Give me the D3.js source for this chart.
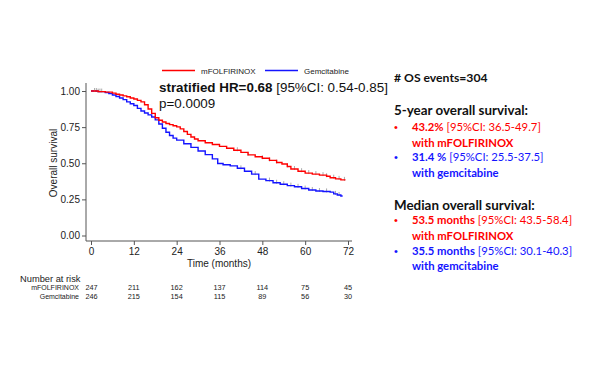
<!DOCTYPE html>
<html>
<head>
<meta charset="utf-8">
<script src="https://cdn.jsdelivr.net/npm/d3@7"></script>
<style>
  body { margin: 0; background: #fff; }
  svg { display: block; }
</style>
</head>
<body>
<svg width="600" height="365"></svg>
<script>
// KM step points (months, survival)
const folfTime = [0, 2, 4, 6, 7, 8, 9, 10, 11, 12, 13, 14, 15, 16, 17, 18, 19, 20, 21, 22, 23, 24, 25, 26, 27, 28, 29, 30, 32, 34, 36, 38, 40, 42, 44, 46, 48, 50, 52, 53.5, 55, 56, 58, 60, 62, 64, 66, 67, 68.5, 70, 71.3]
const folfSurv = [1, 0.996, 0.992, 0.985, 0.978, 0.972, 0.966, 0.96, 0.952, 0.945, 0.935, 0.925, 0.905, 0.875, 0.845, 0.815, 0.798, 0.785, 0.775, 0.767, 0.76, 0.752, 0.738, 0.72, 0.7, 0.682, 0.668, 0.656, 0.642, 0.63, 0.617, 0.604, 0.59, 0.575, 0.558, 0.545, 0.535, 0.52, 0.505, 0.495, 0.478, 0.46, 0.445, 0.432, 0.425, 0.418, 0.41, 0.4, 0.392, 0.385, 0.385]
const gemTime = [0, 2, 4, 5, 6, 7, 8, 9, 10, 11, 12, 13, 14, 15, 16, 17, 18, 19, 20, 21, 22, 23, 24, 26, 28, 30, 32, 34, 35.5, 37, 39, 41, 43, 45, 47, 49, 51, 53, 55, 57, 59, 61, 63, 65, 67, 68, 69, 70, 70.5]
const gemSurv = [1, 0.996, 0.99, 0.982, 0.972, 0.962, 0.952, 0.94, 0.925, 0.912, 0.9, 0.88, 0.862, 0.848, 0.835, 0.82, 0.8, 0.772, 0.742, 0.715, 0.692, 0.674, 0.66, 0.635, 0.61, 0.585, 0.56, 0.53, 0.498, 0.49, 0.482, 0.465, 0.445, 0.425, 0.39, 0.38, 0.365, 0.355, 0.345, 0.337, 0.325, 0.315, 0.308, 0.305, 0.3, 0.288, 0.28, 0.273, 0.273]
// censoring marks (months)
const folfCens = [1, 2, 3, 41, 44, 48, 50, 52, 55, 57, 59, 61, 63, 65, 66, 68, 69.5, 71]
const gemCens = [1.5, 2.5, 42, 46, 50, 52, 54, 56, 58, 60, 62, 64, 66, 68.5, 69.5]

const xTicks = [0, 12, 24, 36, 48, 60, 72]
const yTicks = [0, 0.25, 0.5, 0.75, 1]
const riskFolf = [247, 211, 162, 137, 114, 75, 45]
const riskGem = [246, 215, 154, 115, 89, 56, 30]

const RED = '#ff0000', BLUE = '#1414ff', AXIS = '#555'
const AF = 'Liberation Sans, Arial, sans-serif'
const svg = d3.select('svg')
const x = d3.scaleLinear().domain([0, 72]).range([91, 348])
const y = d3.scaleLinear().domain([0, 1]).range([235.5, 91])

// axes
svg.append('line').attr('x1', 86).attr('x2', 86).attr('y1', 83).attr('y2', 241).attr('stroke', AXIS)
svg.append('line').attr('x1', 86).attr('x2', 352).attr('y1', 241).attr('y2', 241).attr('stroke', AXIS)

const yAxis = svg.append('g').attr('transform', 'translate(86,0)')
  .call(d3.axisLeft(y).tickValues(yTicks).tickFormat(d3.format('.2f')).tickSize(4).tickPadding(2))
yAxis.select('.domain').remove()
yAxis.selectAll('line').attr('stroke', AXIS)
yAxis.selectAll('text').attr('font-family', AF).attr('font-size', '10px').attr('fill', '#222')

const xAxis = svg.append('g').attr('transform', 'translate(0,241)')
  .call(d3.axisBottom(x).tickValues(xTicks).tickSize(4).tickPadding(3))
xAxis.select('.domain').remove()
xAxis.selectAll('line').attr('stroke', AXIS)
xAxis.selectAll('text').attr('font-family', AF).attr('font-size', '10px').attr('fill', '#222')

svg.append('text')
  .attr('transform', 'translate(57,163) rotate(-90)')
  .attr('text-anchor', 'middle')
  .attr('font-family', AF).attr('font-size', '10px').attr('fill', '#222')
  .text('Overall survival')

svg.append('text')
  .attr('x', 219).attr('y', 267)
  .attr('text-anchor', 'middle')
  .attr('font-family', AF).attr('font-size', '10px').attr('fill', '#222')
  .text('Time (months)')

// curves
const line = d3.line().curve(d3.curveStepAfter).x(d => x(d[0])).y(d => y(d[1]))
const stepAt = (times, surv, t) => surv[d3.bisectRight(times, t) - 1]

const drawGroup = (times, surv, cens, color) => {
  svg.append('g').selectAll('line')
    .data(cens).join('line')
    .attr('x1', d => x(d)).attr('x2', d => x(d))
    .attr('y1', d => y(stepAt(times, surv, d)) - 3)
    .attr('y2', d => y(stepAt(times, surv, d)) + 1)
    .attr('stroke', '#aaa').attr('stroke-width', 1)
  svg.append('path')
    .datum(d3.zip(times, surv))
    .attr('d', line)
    .attr('fill', 'none')
    .attr('stroke', color)
    .attr('stroke-width', 1.4)
}
drawGroup(gemTime, gemSurv, gemCens, BLUE)
drawGroup(folfTime, folfSurv, folfCens, RED)

// legend
const legend = [['mFOLFIRINOX', RED, 162], ['Gemcitabine', BLUE, 265]]
legend.forEach(([name, color, lx]) => {
  svg.append('line').attr('x1', lx).attr('x2', lx + 33).attr('y1', 70.5).attr('y2', 70.5)
    .attr('stroke', color).attr('stroke-width', 1.4)
  svg.append('text').attr('x', lx + 39).attr('y', 73.5)
    .attr('font-family', AF).attr('font-size', '8px').attr('fill', '#222')
    .text(name)
})

// HR annotation
const hr = svg.append('text').attr('x', 159).attr('y', 92)
  .attr('font-family', AF).attr('font-size', '13.4px').attr('fill', '#111')
hr.append('tspan').attr('font-weight', 'bold').text('stratified HR=0.68')
hr.append('tspan').text(' [95%CI: 0.54-0.85]')
svg.append('text').attr('x', 159).attr('y', 108)
  .attr('font-family', AF).attr('font-size', '13.4px').attr('fill', '#111')
  .text('p=0.0009')

// number at risk
svg.append('text').attr('x', 20).attr('y', 282)
  .attr('font-family', AF).attr('font-size', '9.3px').attr('fill', '#222')
  .text('Number at risk')
const riskRows = [['mFOLFIRINOX', riskFolf, 290], ['Gemcitabine', riskGem, 298.5]]
riskRows.forEach(([name, vals, ry]) => {
  svg.append('text').attr('x', 79).attr('y', ry).attr('text-anchor', 'end')
    .attr('font-family', AF).attr('font-size', '7px').attr('fill', '#222')
    .text(name)
  svg.append('g').selectAll('text')
    .data(vals).join('text')
    .attr('x', (d, i) => x(xTicks[i]) + (i === 0 ? 0.5 : 0))
    .attr('y', ry)
    .attr('text-anchor', 'middle')
    .attr('font-family', AF).attr('font-size', '7.3px').attr('fill', '#222')
    .text(d => d)
})

// right panel
const RF = 'Lato, Calibri, sans-serif'
svg.append('text').attr('x', 394).attr('y', 82)
  .attr('font-family', RF).attr('font-size', '12.2px').attr('font-weight', 'bold').attr('fill', '#111')
  .text('# OS events=304')

const blocks = [
  { title: '5-year overall survival:', ty: 115, rows: [
    { color: RED, bold: '43.2%', ci: ' [95%CI: 36.5-49.7]', tail: 'with mFOLFIRINOX', y1: 131, y2: 146.5 },
    { color: BLUE, bold: '31.4 %', ci: ' [95%CI: 25.5-37.5]', tail: 'with gemcitabine', y1: 161, y2: 177 }
  ] },
  { title: 'Median overall survival:', ty: 209.5, rows: [
    { color: RED, bold: '53.5 months', ci: ' [95%CI: 43.5-58.4]', tail: 'with mFOLFIRINOX', y1: 224, y2: 239.5 },
    { color: BLUE, bold: '35.5 months', ci: ' [95%CI: 30.1-40.3]', tail: 'with gemcitabine', y1: 254.5, y2: 270 }
  ] }
]
blocks.forEach(b => {
  svg.append('text').attr('x', 394).attr('y', b.ty)
    .attr('font-family', RF).attr('font-size', '13.4px').attr('font-weight', 'bold').attr('fill', '#111')
    .text(b.title)
  b.rows.forEach(r => {
    svg.append('text').attr('x', 394).attr('y', r.y1)
      .attr('font-family', 'Arial, Liberation Sans, sans-serif').attr('font-size', '11px').attr('fill', r.color)
      .text('•')
    const t = svg.append('text').attr('x', 412).attr('y', r.y1)
      .attr('font-family', RF).attr('font-size', '11.3px').attr('fill', r.color)
    t.append('tspan').attr('font-weight', 'bold').text(r.bold)
    t.append('tspan').text(r.ci)
    svg.append('text').attr('x', 412).attr('y', r.y2)
      .attr('font-family', RF).attr('font-size', '11.3px').attr('font-weight', 'bold').attr('fill', r.color)
      .text(r.tail)
  })
})
</script>
</body>
</html>
